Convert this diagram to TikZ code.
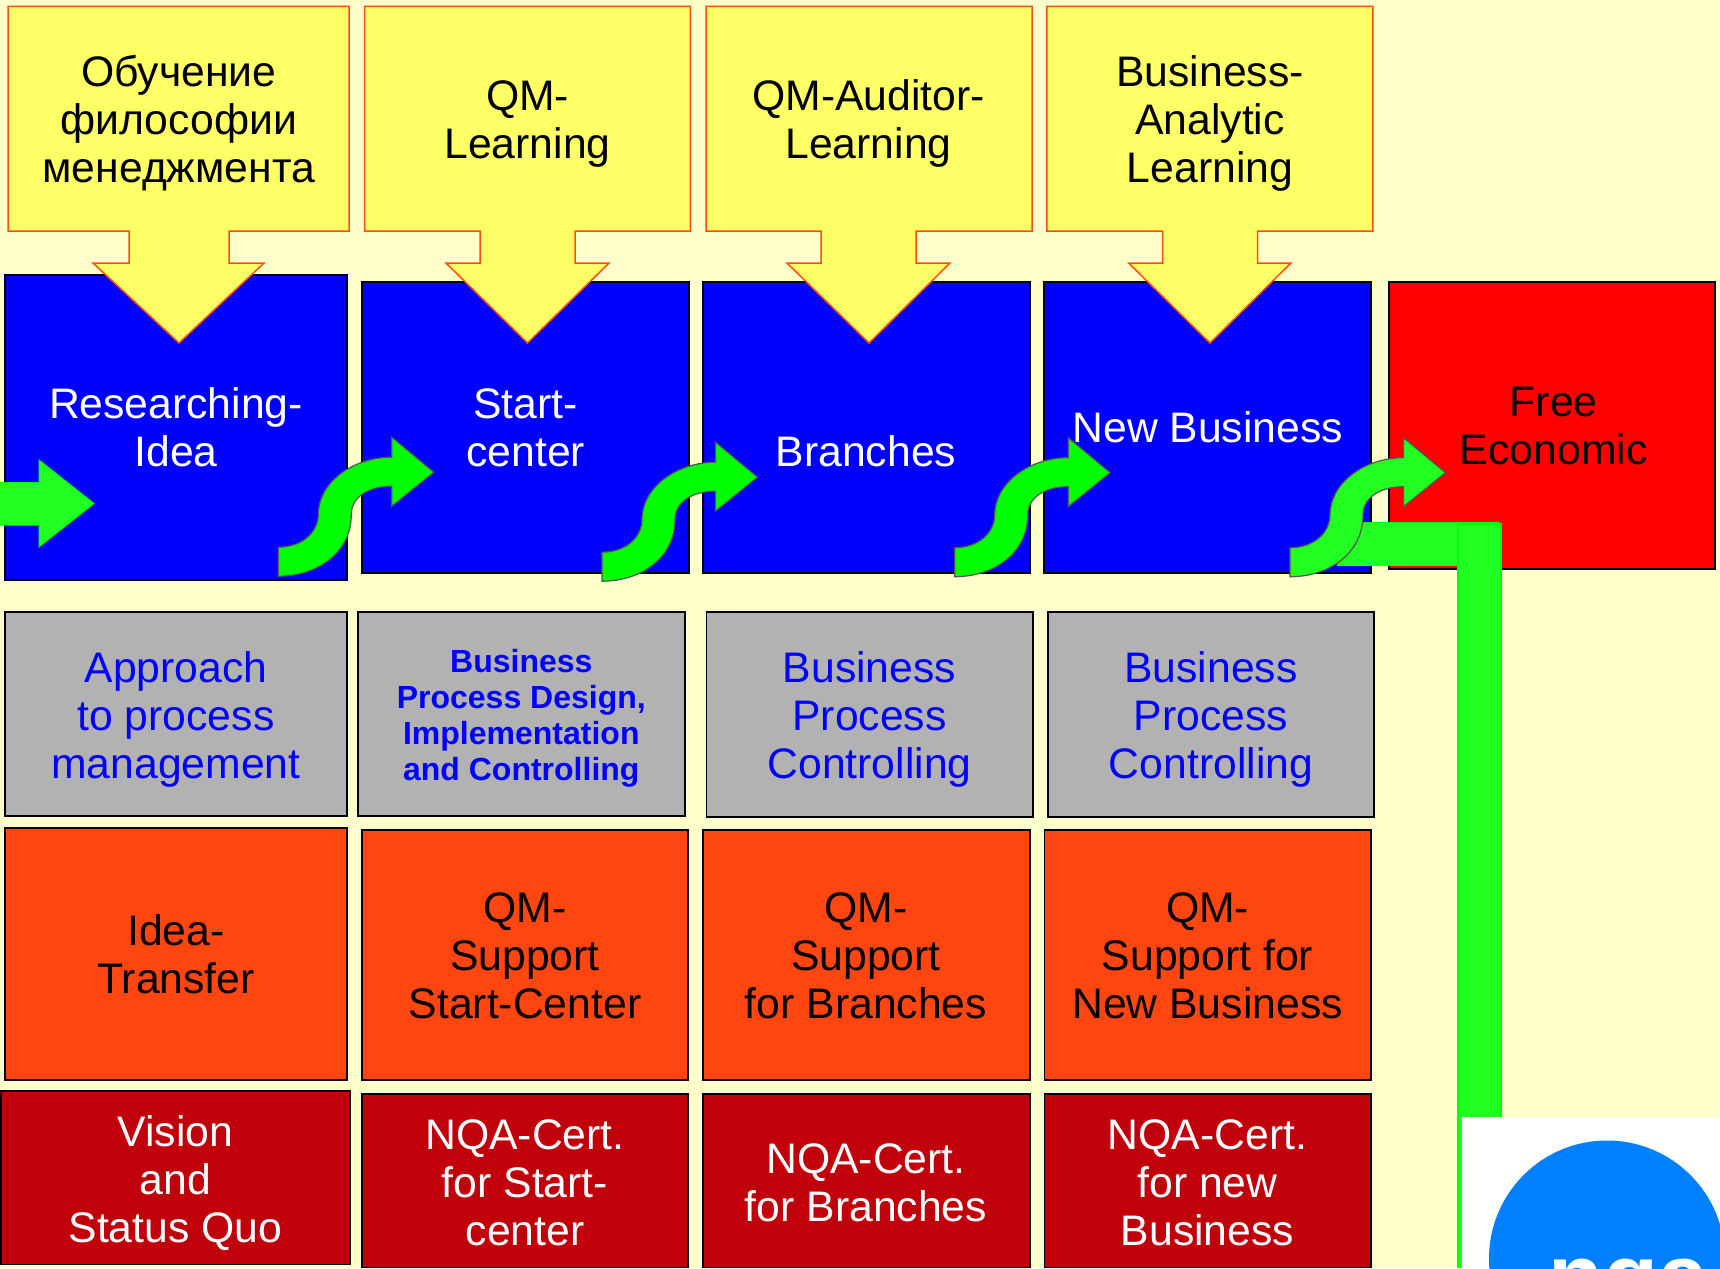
\documentclass[tikz,border=0pt]{standalone}
\usepackage{fontspec}
\setmainfont{Liberation Sans}
\definecolor{bgc}{HTML}{FFFFCC}
\definecolor{yelc}{HTML}{FFFF66}
\definecolor{yelb}{HTML}{FF4D10}
\definecolor{greyc}{HTML}{B2B2B2}
\definecolor{orc}{HTML}{FF4510}
\definecolor{darkc}{HTML}{C0000A}
\definecolor{grn}{HTML}{22FF22}
\definecolor{pure}{HTML}{00FF00}
\definecolor{logoc}{HTML}{0080FF}
\definecolor{arrowb}{HTML}{555555}
\tikzset{
  bx/.style={draw=black,line width=1.8pt,inner sep=0pt,outer sep=0pt,anchor=north west},
  bluebox/.style={bx,fill=blue},
  redbox/.style={bx,fill=red},
  greybox/.style={bx,fill=greyc},
  orbox/.style={bx,fill=orc},
  darkbox/.style={bx,fill=darkc},
  txt/.style={align=center,inner sep=0pt,outer sep=0pt,anchor=north,
    font=\fontsize{42.7}{48}\selectfont},
  callout/.style={draw=yelb,fill=yelc,line width=1.5pt,line join=miter},
  sarrow/.style={draw=arrowb,line width=1.2pt,line join=miter}
}
\newcommand{\mybox}[6]{\node[#2,minimum width={(#5-#3)*1pt},minimum height={(#6-#4)*1pt}] (#1) at (#3,#4+0.8) {};}
\newcommand{\mytext}[5][black]{\node[txt,text=#1] (#2) at (#3,#4-33.6) {#5};}
\newcommand{\mybold}[4]{\node[txt,text=blue,font=\fontsize{32}{36}\selectfont\bfseries] (#1) at (#2,#3-25.2) {#4};}
\newcommand{\mycall}[8]{\draw[callout] (#1,6.5) -- (#2,6.5) -- (#2,231) -- (#4,231) -- (#4,263) -- (#6,263) -- (#7,343) -- (#5,263) -- (#3,263) -- (#3,231) -- (#1,231) -- cycle;}
\newcommand{\myarrow}[3]{\begin{scope}[shift={(#1,#2+1.2)}]
  \draw[sarrow,fill=#3] (0,0) .. controls (25,0) and (40,-16) .. (40,-32.7)
    .. controls (40,-65) and (75,-90) .. (113.5,-90) -- (113.5,-110) -- (155.5,-75) -- (113.5,-41) -- (113.5,-61)
    .. controls (90,-61) and (73,-50) .. (73,-32.7)
    .. controls (73,5) and (40,29) .. (0,29) -- cycle;
\end{scope}}
\begin{document}
\begin{tikzpicture}[x=1pt,y=-1pt]
\useasboundingbox (0,0) rectangle (1720,1268);
\fill[bgc] (0,0) rectangle (1720,1268);

% blue row and red box
\mybox{b1}{bluebox}{5}{274}{347}{579}
\mybox{b2}{bluebox}{362}{281}{688.7}{572.5}
\mybox{b3}{bluebox}{703}{281}{1030}{572.5}
\mybox{b4}{bluebox}{1044}{281}{1371}{572.5}
\mybox{r1}{redbox}{1389}{281}{1715}{568}

% yellow callouts
\mycall{8}{349}{129}{229}{93}{264}{179}{}
\mycall{364.5}{690.4}{480}{575}{446}{609}{527.5}{}
\mycall{706}{1032}{821}{916}{787}{950}{869}{}
\mycall{1046.8}{1372.8}{1162.5}{1257.6}{1128.6}{1291}{1210}{}

\mytext{y1}{178.8}{86.5}{\strut Обучение\\\strut философии\\\strut менеджмента}
\mytext{y2}{527.5}{110.7}{\strut QM-\\\strut Learning}
\mytext{y3}{868.6}{110.7}{\strut QM-Auditor-\\\strut Learning}
\mytext{y4}{1210}{86.5}{\strut Business-\\\strut Analytic\\\strut Learning}

\mytext[white]{bt1}{176}{418.5}{\strut Researching-\\\strut Idea}
\mytext[white]{bt2}{525.7}{418.5}{\strut Start-\\\strut center}
\mytext[white]{bt3}{866}{466.5}{\strut Branches}
\mytext[white]{bt4}{1207.8}{442.6}{\strut New Business}
\mytext{rt1}{1553.7}{416.6}{\strut Free\\\strut Economic}

% grey row
\mybox{g1}{greybox}{5}{611}{347}{815}
\mybox{g2}{greybox}{358}{611}{684.6}{815}
\mybox{g3}{greybox}{706.5}{611}{1033}{816.5}
\mybox{g4}{greybox}{1047.7}{611}{1374}{816.5}
\mytext[blue]{gt1}{176}{682.5}{\strut Approach\\\strut to process\\\strut management}
\mybold{gt2}{521.3}{672.5}{\strut Business\\\strut Process Design,\\\strut Implementation\\\strut and Controlling}
\mytext[blue]{gt3}{869.5}{682}{\strut Business\\\strut Process\\\strut Controlling}
\mytext[blue]{gt4}{1211}{682}{\strut Business\\\strut Process\\\strut Controlling}

% orange row
\mybox{o1}{orbox}{5}{827}{347}{1079}
\mybox{o2}{orbox}{362}{829}{688}{1079}
\mybox{o3}{orbox}{703}{829}{1030}{1079}
\mybox{o4}{orbox}{1044.5}{829}{1371}{1079}
\mytext{ot1}{176}{945}{\strut Idea-\\\strut Transfer}
\mytext{ot2}{525}{922}{\strut QM-\\\strut Support\\\strut Start-Center}
\mytext{ot3}{866}{922}{\strut QM-\\\strut Support\\\strut for Branches}
\mytext{ot4}{1207.5}{922}{\strut QM-\\\strut Support for\\\strut New Business}

% dark red row
\mybox{d1}{darkbox}{1}{1090}{350}{1263.6}
\mybox{d2}{darkbox}{362}{1093}{688}{1266.6}
\mybox{d3}{darkbox}{703}{1093}{1030}{1266.6}
\mybox{d4}{darkbox}{1044.5}{1093}{1371}{1266.6}
\mytext[white]{dt1}{175.4}{1146.5}{\strut Vision\\\strut and\\\strut Status Quo}
\mytext[white]{dt2}{525}{1149}{\strut NQA-Cert.\\\strut for Start-\\\strut center}
\mytext[white]{dt3}{866}{1173}{\strut NQA-Cert.\\\strut for Branches}
\mytext[white]{dt4}{1207.5}{1149}{\strut NQA-Cert.\\\strut for new\\\strut Business}

% wide green band
\fill[grn] (1337,522.5) rectangle (1500,566);
\draw[pure,line width=1pt] (1363,522.5) -- (1500,522.5);
\draw[pure,fill=grn,line width=1.2pt] (1458,1268) -- (1458,524) -- (1501,524) -- (1501,1268);

% logo
\fill[white] (1462,1116.5) rectangle (1720,1268);
\begin{scope}
\clip (1462,1116.5) rectangle (1720,1268);
\fill[logoc] (1607,1258.5) circle [radius=118];
\node[txt,text=white,font=\fontsize{90}{100}\selectfont\bfseries,anchor=base] (logo) at (1628,1307.5) {nqa};
\end{scope}

% entry arrow
\draw[pure,fill=grn,line width=1pt] (0,482.5) -- (39,482.5) -- (39,460) -- (94,503.5) -- (39,547) -- (39,525) -- (0,525);

% curved arrows
\myarrow{278.3}{546}{pure}
\myarrow{602}{551}{pure}
\myarrow{954.7}{546.5}{pure}
\myarrow{1290}{546.5}{grn}
\end{tikzpicture}
\end{document}
